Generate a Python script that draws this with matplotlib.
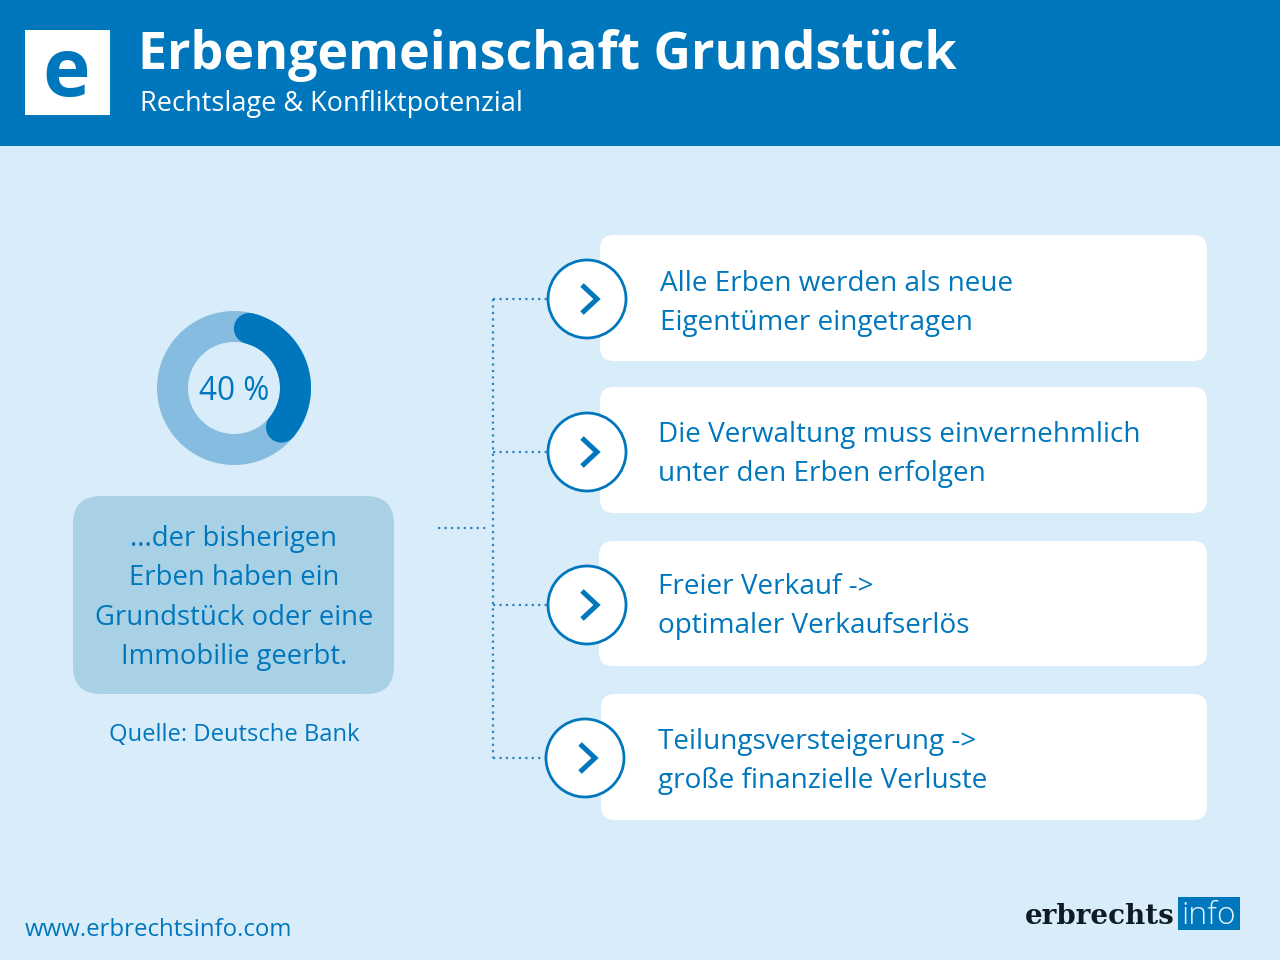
import numpy as np
import matplotlib
matplotlib.use("Agg")
import matplotlib.pyplot as plt
from matplotlib.patches import Rectangle, FancyBboxPatch, Circle, Wedge

FONT = "Open Sans"
BLUE = "#0077BD"
BG = "#D9ECF9"
RING = "#85BCE0"
BOX = "#A9D1E5"
LINE = "#2E86BE"

share = 40
title = "Erbengemeinschaft Grundstück"
subtitle = "Rechtslage & Konfliktpotenzial"
share_label = "40 %"
left_lines = ["...der bisherigen", "Erben haben ein", "Grundstück oder eine", "Immobilie geerbt."]
left_base = [546, 585, 625, 664]
source = "Quelle: Deutsche Bank"
website = "www.erbrechtsinfo.com"
card_lines = [
    ["Alle Erben werden als neue", "Eigentümer eingetragen"],
    ["Die Verwaltung muss einvernehmlich", "unter den Erben erfolgen"],
    ["Freier Verkauf ->", "optimaler Verkaufserlös"],
    ["Teilungsversteigerung ->", "große finanzielle Verluste"],
]
card_x = [600, 600, 599, 601]
card_y = [235, 387, 541, 694]
card_h = [126, 126, 125, 126]
text_x = [660, 658, 658, 658]
text_base = [291, 442, 594, 749]
icon_x = [587, 587, 587, 585]
icon_y = [299, 452, 605, 758]

fig = plt.figure(figsize=(12.8, 9.6), dpi=100, facecolor=BG)
ax = fig.add_axes([0, 0, 1, 1])
ax.set_xlim(0, 1280)
ax.set_ylim(960, 0)
ax.axis("off")

# header
ax.add_patch(Rectangle((0, 0), 1280, 146, fc=BLUE, ec="none"))
ax.add_patch(Rectangle((25, 30), 85, 85, fc="white", ec="none"))
ax.text(66, 96, "e", color=BLUE, family=FONT, weight="bold", fontsize=58, ha="center", va="baseline")
ax.text(138, 69, title, color="white", family=FONT, weight="bold", fontsize=37.35, ha="left", va="baseline")
ax.text(140, 111, subtitle, color="white", family=FONT, fontsize=19.55, ha="left", va="baseline")

# donut
cx, cy, r_out, r_in = 234, 388, 77, 46
ax.add_patch(Wedge((cx, cy), r_out, 0, 360, width=r_out - r_in, fc=RING, ec="none"))
r_mid = (r_out + r_in) / 2
cap = np.degrees((r_out - r_in) / 2 / r_mid)
ang = np.radians(np.linspace(cap, share / 100 * 360 - cap, 100))
ax.plot(cx + r_mid * np.sin(ang), cy - r_mid * np.cos(ang), color=BLUE,
        lw=(r_out - r_in) * 0.72, solid_capstyle="round")
ax.text(cx, 400, share_label, color=BLUE, family=FONT, fontsize=22.7, ha="center", va="baseline")

# left box
ax.add_patch(FancyBboxPatch((73 + 28, 496 + 28), 321 - 56, 198 - 56,
                            boxstyle="round,pad=28,rounding_size=28", fc=BOX, ec="none"))
for b, s in zip(left_base, left_lines):
    ax.text(234, b, s, color=BLUE, family=FONT, fontsize=19.8, ha="center", va="baseline")
ax.text(234, 741, source, color=BLUE, family=FONT, fontsize=17.1, ha="center", va="baseline")

# connectors
dot = dict(color=LINE, lw=1.6, ls=(0, (1, 1.9)))
ax.plot([438, 486], [528, 528], **dot)
ax.plot([493, 493], [299, 758], **dot)
for x, y in zip(icon_x, icon_y):
    ax.plot([493, x - 40], [y, y], **dot)

# cards
for x, y, h, tx, tb, lines, ix, iy in zip(card_x, card_y, card_h, text_x, text_base, card_lines, icon_x, icon_y):
    ax.add_patch(FancyBboxPatch((x + 14, y + 14), 1207 - x - 28, h - 28,
                                boxstyle="round,pad=14,rounding_size=14", fc="white", ec="none"))
    ax.add_patch(Circle((ix, iy), 39, fc="white", ec=BLUE, lw=2))
    ax.plot([ix - 5, ix + 10, ix - 5], [iy - 14, iy, iy + 14], color=BLUE, lw=3.6,
            solid_joinstyle="miter", solid_capstyle="butt")
    ax.text(tx, tb, lines[0], color=BLUE, family=FONT, fontsize=20.1, ha="left", va="baseline")
    ax.text(tx, tb + 39, lines[1], color=BLUE, family=FONT, fontsize=20.1, ha="left", va="baseline")

# footer
ax.text(25, 936, website, color=BLUE, family=FONT, fontsize=17.25, ha="left", va="baseline")
ax.text(1025, 924, "erbrechts", color="#0E1A24", family="DejaVu Serif", weight="bold", fontsize=20, ha="left", va="baseline")
ax.add_patch(Rectangle((1178, 897), 62, 33, fc=BLUE, ec="none"))
ax.text(1209, 924, "info", color="#EAF5FC", family=FONT, weight="light", fontsize=23, ha="center", va="baseline")

fig.savefig("out.png", dpi=100, facecolor=BG)
